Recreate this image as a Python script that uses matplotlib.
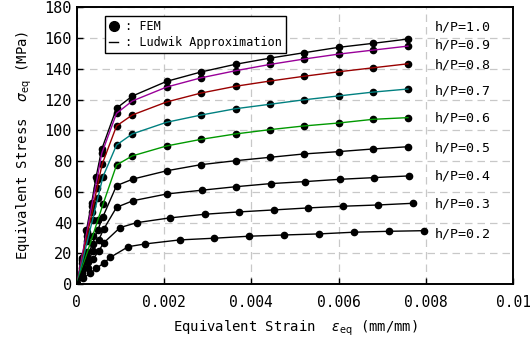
import matplotlib
matplotlib.use("Agg")
import matplotlib.pyplot as plt
from matplotlib.lines import Line2D

plt.rcParams['font.family'] = ['DejaVu Sans Mono', 'DejaVu Sans']
plt.rcParams['mathtext.fontset'] = 'dejavusans'

ratios = ["1.0", "0.9", "0.8", "0.7", "0.6", "0.5", "0.4", "0.3", "0.2"]
colors = ["#000000", "#990099", "#990000", "#008080", "#009900",
          "#000000", "#000000", "#000000", "#000000"]

strain_hp10 = [0, 0.00013, 0.00022, 0.00034, 0.00044, 0.00057, 0.00091, 0.00127, 0.00206, 0.00285,
               0.00364, 0.00443, 0.00521, 0.00600, 0.00679, 0.00759]
stress_hp10 = [0, 18, 35, 53, 69.5, 87.7, 114.4, 122.3, 131.9, 138.0,
               143.0, 147.0, 150.5, 154.0, 156.6, 159.4]
strain_hp09 = [0, 0.00011, 0.00023, 0.00034, 0.00046, 0.00057, 0.00091, 0.00127, 0.00206, 0.00285,
               0.00364, 0.00443, 0.00521, 0.00600, 0.00679, 0.00759]
stress_hp09 = [0, 17, 34, 51, 68, 85, 111.1, 119.1, 128.2, 134.2,
               138.8, 142.9, 146.4, 149.6, 152.2, 154.8]
strain_hp08 = [0, 0.00012, 0.00023, 0.00035, 0.00046, 0.00058, 0.00091, 0.00127, 0.00206, 0.00285,
               0.00364, 0.00443, 0.00521, 0.00600, 0.00679, 0.00759]
stress_hp08 = [0, 15.6, 31.2, 46.8, 62.4, 78, 102.9, 110.0, 118.5, 124.3,
               128.7, 132.1, 135.2, 138.1, 140.7, 143.3]
strain_hp07 = [0, 0.00012, 0.00024, 0.00036, 0.00048, 0.00060, 0.00091, 0.00127, 0.00206, 0.00285,
               0.00364, 0.00443, 0.00521, 0.00600, 0.00679, 0.00759]
stress_hp07 = [0, 14, 28, 42, 56, 70, 90.5, 97.7, 105.3, 110.0,
               114.1, 117.0, 119.9, 122.4, 124.9, 126.9]
strain_hp06 = [0, 0.00012, 0.00024, 0.00036, 0.00048, 0.00060, 0.00091, 0.00127, 0.00206, 0.00285,
               0.00364, 0.00443, 0.00521, 0.00600, 0.00679, 0.00759]
stress_hp06 = [0, 10.4, 20.8, 31.2, 41.6, 52.0, 77.5, 83.4, 89.9, 94.2,
               97.7, 100.5, 102.9, 104.8, 107.2, 108.3]
strain_hp05 = [0, 0.00012, 0.00024, 0.00036, 0.00048, 0.00060, 0.00091, 0.00129, 0.00207, 0.00284,
               0.00364, 0.00443, 0.00521, 0.00600, 0.00678, 0.00760]
stress_hp05 = [0, 8.8, 17.6, 26.4, 35.2, 44.0, 64.1, 68.4, 73.8, 77.7,
               80.3, 82.5, 84.7, 86.2, 87.9, 89.4]
strain_hp04 = [0, 0.00012, 0.00025, 0.00037, 0.00050, 0.00062, 0.00091, 0.00129, 0.00207, 0.00286,
               0.00365, 0.00444, 0.00523, 0.00603, 0.00682, 0.00761]
stress_hp04 = [0, 7.2, 14.4, 21.6, 28.8, 36.0, 50.0, 54.3, 58.7, 61.1,
               63.4, 65.4, 66.7, 68.2, 69.3, 70.4]
strain_hp03 = [0, 0.00012, 0.00025, 0.00037, 0.00050, 0.00062, 0.00099, 0.00137, 0.00213, 0.00294,
               0.00372, 0.00452, 0.00531, 0.00610, 0.00690, 0.00770]
stress_hp03 = [0, 5.4, 10.8, 16.2, 21.6, 27.0, 36.8, 40.0, 43.1, 45.5,
               47.0, 48.3, 49.6, 50.7, 51.5, 52.6]
strain_hp02 = [0, 0.00014, 0.00031, 0.00045, 0.00063, 0.00077, 0.00118, 0.00157, 0.00236, 0.00315,
               0.00395, 0.00475, 0.00555, 0.00635, 0.00716, 0.00796]
stress_hp02 = [0, 3.9, 7.1, 10.4, 14.0, 17.5, 24.4, 26.2, 28.8, 29.9,
               31.2, 32.0, 32.7, 33.8, 34.4, 34.8]

strains = [strain_hp10, strain_hp09, strain_hp08, strain_hp07, strain_hp06,
           strain_hp05, strain_hp04, strain_hp03, strain_hp02]
stresses = [stress_hp10, stress_hp09, stress_hp08, stress_hp07, stress_hp06,
            stress_hp05, stress_hp04, stress_hp03, stress_hp02]
label_y = [167.4, 155.5, 142.5, 125.8, 107.9, 88.8, 70.4, 52.0, 32.7]

fig = plt.figure(figsize=(5.3, 3.5), dpi=100)
ax = fig.add_axes([0.145, 0.188, 0.823, 0.791])

for r, c, xs, ys, ly in zip(ratios, colors, strains, stresses, label_y):
    ax.plot(xs, ys, 'o', color='black', markersize=4.5, zorder=3)
    ax.plot(xs, ys, '-', color=c, linewidth=1.0, zorder=4)
    ax.text(0.0082, ly, "h/P=" + r, fontsize=9.5, va='center', ha='left')

ax.set_xlim(0, 0.01)
ax.set_ylim(0, 180)
ax.set_xticks([0, 0.002, 0.004, 0.006, 0.008, 0.01])
ax.set_xticklabels(["0", "0.002", "0.004", "0.006", "0.008", "0.01"])
ax.set_yticks(range(0, 181, 20))
ax.tick_params(direction='in', length=4, width=1)
ax.tick_params(axis='y', labelsize=11)
ax.tick_params(axis='x', labelsize=10.5, pad=8)
ax.grid(True, color='#c8c8c8', linestyle=(0, (6, 4)), linewidth=0.9)
for s in ax.spines.values():
    s.set_linewidth(1.4)

ax.set_xlabel(r"Equivalent Strain  $\varepsilon_{\rm eq}$ (mm/mm)", fontsize=10, labelpad=6)
ax.set_ylabel(r"Equivalent Stress  $\sigma_{\rm eq}$ (MPa)", fontsize=10, labelpad=8)

handles = [Line2D([], [], marker='o', color='black', linestyle='none', markersize=7),
           Line2D([], [], color='black', linewidth=1.0)]
leg = ax.legend(handles, [" : FEM", " : Ludwik Approximation"], loc='upper left',
                bbox_to_anchor=(0.064, 0.969), fontsize=8.5, frameon=True, fancybox=False,
                edgecolor='black', framealpha=1, handlelength=0.8, handletextpad=0.0,
                borderpad=0.35, labelspacing=0.25, borderaxespad=0)
leg.get_frame().set_linewidth(1.0)

fig.savefig("out.png", dpi=100)
